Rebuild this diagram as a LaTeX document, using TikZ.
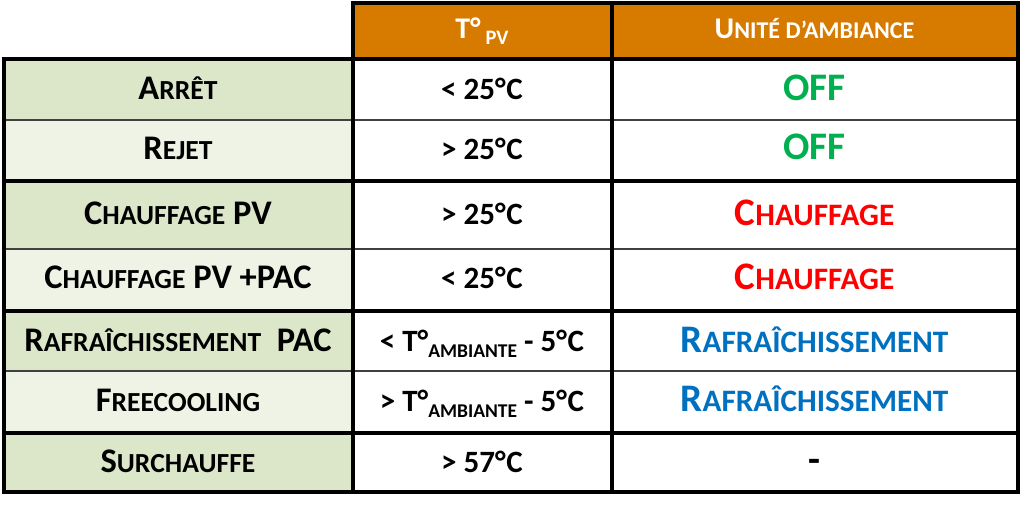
\documentclass[tikz,border=0pt]{standalone}
\usepackage{fontspec}
\setmainfont{Carlito}
\newdimen\scdim
\makeatletter
\newcommand\smc[1]{{\scdim=\f@size pt\relax\fontsize{0.8\scdim}{\scdim}\selectfont #1}}
\makeatother
\newcommand\subtxt[2]{\raisebox{-6pt}{\fontsize{#1}{#1}\selectfont #2}}
\newcommand\dg{°\kern0.8pt}
\definecolor{hdrorange}{HTML}{D77B00}
\definecolor{gdark}{HTML}{DCE6C9}
\definecolor{glight}{HTML}{EEF3E5}
\definecolor{offgreen}{HTML}{00B050}
\definecolor{chred}{HTML}{FF0000}
\definecolor{rfblue}{HTML}{0070C0}
\begin{document}
\begin{tikzpicture}[x=1pt,y=-1pt,
  thickline/.style={line width=4pt,black,line cap=rect},
  thinline/.style={line width=1.3pt,black!75},
  celltxt/.style={anchor=base,inner sep=0pt,font=\bfseries},
  colA/.style={celltxt,font=\bfseries\fontsize{34.5}{34.5}\selectfont},
  colB/.style={celltxt,font=\bfseries\fontsize{31}{31}\selectfont},
  colC/.style={celltxt,font=\bfseries\fontsize{39}{39}\selectfont},
  hdr/.style={celltxt,text=white,font=\bfseries\fontsize{30}{30}\selectfont}]
\useasboundingbox (0,0) rectangle (1024,510);
\def\XA{4}\def\XB{352.5}\def\XC{611.5}\def\XD{1018}
% fills
\fill[hdrorange] (\XB,3) rectangle (\XD,59);
\fill[gdark] (\XA,59) rectangle (\XB,120);
\fill[glight] (\XA,120) rectangle (\XB,181);
\fill[gdark] (\XA,181) rectangle (\XB,249);
\fill[glight] (\XA,249) rectangle (\XB,311);
\fill[gdark] (\XA,311) rectangle (\XB,371);
\fill[glight] (\XA,371) rectangle (\XB,433);
\fill[gdark] (\XA,433) rectangle (\XB,492);
% thin lines
\draw[thinline] (\XA,120) -- (\XD,120);
\draw[thinline] (\XA,249) -- (\XD,249);
\draw[thinline] (\XA,371) -- (\XD,371);
% thick lines
\draw[thickline] (\XB,3) -- (\XD,3);
\foreach \yy in {59,181,311,433,492} \draw[thickline] (\XA,\yy) -- (\XD,\yy);
\draw[thickline] (\XA,59) -- (\XA,492);
\draw[thickline] (\XB,3) -- (\XB,492);
\draw[thickline] (\XC,3) -- (\XC,492);
\draw[thickline] (\XD,3) -- (\XD,492);
% header
\def\CA{178}\def\CB{482}\def\CC{814.5}
\node[hdr] (h1) at (\CB,39) {T°\,\subtxt{20.5}{PV}};
\node[hdr] (h2) at (\CC,39) {U\smc{NITÉ D’AMBIANCE}};
% column A
\node[colA] (a1) at (\CA,100) {A\smc{RRÊT}};
\node[colA] (a2) at (\CA,160) {R\smc{EJET}};
\node[colA] (a3) at (\CA,225) {C\smc{HAUFFAGE} PV};
\node[colA] (a4) at (\CA,289) {C\smc{HAUFFAGE} PV +PAC};
\node[colA] (a5) at (\CA,351) {R\smc{AFRAÎCHISSEMENT}\ \ PAC};
\node[colA] (a6) at (\CA,411) {F\smc{REECOOLING}};
\node[colA] (a7) at (\CA,472) {S\smc{URCHAUFFE}};
% column B
\node[colB] (b1) at (\CB,100) {< 25\dg C};
\node[colB] (b2) at (\CB,160) {> 25\dg C};
\node[colB] (b3) at (\CB,225) {> 25\dg C};
\node[colB] (b4) at (\CB,289) {< 25\dg C};
\node[colB] (b5) at (\CB,351) {< T°\subtxt{19.5}{AMBIANTE} - 5\dg C};
\node[colB] (b6) at (\CB,411) {> T°\subtxt{19.5}{AMBIANTE} - 5\dg C};
\node[colB] (b7) at (\CB,472) {> 57\dg C};
% column C
\node[colC,text=offgreen] (c1) at (\CC,101) {OFF};
\node[colC,text=offgreen] (c2) at (\CC,160) {OFF};
\node[colC,text=chred] (c3) at (\CC,226) {C\smc{HAUFFAGE}};
\node[colC,text=chred] (c4) at (\CC,290) {C\smc{HAUFFAGE}};
\node[colC,text=rfblue] (c5) at (\CC,352) {R\smc{AFRAÎCHISSEMENT}};
\node[colC,text=rfblue] (c6) at (\CC,411) {R\smc{AFRAÎCHISSEMENT}};
\node[colC] (c7) at (\CC,472) {-};
\end{tikzpicture}
\end{document}
